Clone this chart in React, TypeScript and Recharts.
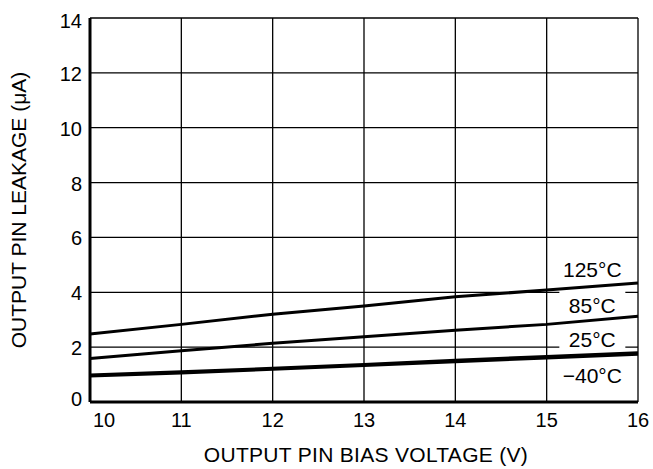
import React from 'react';
import {
  LineChart,
  Line,
  XAxis,
  YAxis,
  CartesianGrid,
  ReferenceDot,
  Label,
} from 'recharts';

// bias voltage (V) and leakage (uA) per temperature
const voltage = [10, 11, 12, 13, 14, 15, 16];
const leak125 = [2.48, 2.83, 3.2, 3.5, 3.84, 4.08, 4.34];
const leak85 = [1.59, 1.87, 2.14, 2.38, 2.62, 2.83, 3.13];
const leak25 = [0.98, 1.1, 1.23, 1.37, 1.52, 1.66, 1.8];
const leakM40 = [0.95, 1.06, 1.19, 1.33, 1.47, 1.6, 1.74];

const xTicks = [10, 11, 12, 13, 14, 15, 16];
const yTicks = [0, 2, 4, 6, 8, 10, 12, 14];

// curve labels (text, anchor in data units)
const curveLabels = [
  { text: '125°C', v: 15.5, i: 4.85 },
  { text: '85°C', v: 15.5, i: 3.57 },
  { text: '25°C', v: 15.5, i: 2.33 },
  { text: '\u221240°C', v: 15.5, i: 1.02 },
];

const data = voltage.map((v, k) => ({
  v,
  t125: leak125[k],
  t85: leak85[k],
  t25: leak25[k],
  tm40: leakM40[k],
}));

const FONT = '"Liberation Sans", Arial, Helvetica, sans-serif';

const XTick = (props: any) => {
  const { x, y, payload } = props;
  const shift = payload.value === 10 ? 14 : 0;
  return (
    <text
      x={x + shift}
      y={y + 18}
      textAnchor="middle"
      dominantBaseline="central"
      fontSize={20}
      fontFamily={FONT}
      fill="#000"
    >
      {payload.value}
    </text>
  );
};

const YTick = (props: any) => {
  const { x, y, payload } = props;
  let dy = 1;
  if (payload.value === 0) dy = -3;
  if (payload.value === 14) dy = 3;
  return (
    <text
      x={x - 8}
      y={y + dy}
      textAnchor="end"
      dominantBaseline="central"
      fontSize={20}
      fontFamily={FONT}
      fill="#000"
    >
      {payload.value}
    </text>
  );
};

const TagShape = (text: string) => (props: any) => {
  const { cx, cy } = props;
  return (
    <g>
      <rect x={cx - 33} y={cy - 15} width={66} height={28} fill="#fff" />
      <text
        x={cx}
        y={cy + 1}
        textAnchor="middle"
        dominantBaseline="central"
        fontSize={21}
        fontFamily={FONT}
        fill="#000"
      >
        {text}
      </text>
    </g>
  );
};

export default function App() {
  return (
    <div style={{ position: 'absolute', left: 0, top: 0, background: '#fff' }}>
      <LineChart
        width={653}
        height={469}
        data={data}
        margin={{ top: 18, right: 15, bottom: 0, left: 0 }}
      >
        <CartesianGrid stroke="#000" strokeWidth={1.3} />
        <XAxis
          dataKey="v"
          type="number"
          domain={[10, 16]}
          ticks={xTicks}
          height={67}
          tickLine={false}
          tickSize={0}
          tickMargin={0}
          tick={<XTick />}
          axisLine={{ stroke: '#000', strokeWidth: 3 }}
          interval={0}
        >
          <Label
            content={(p: any) => {
              const vb = p.viewBox;
              return (
                <text
                  x={vb.x + vb.width / 2 + 2}
                  y={vb.y + 60}
                  textAnchor="middle"
                  fontSize={21}
                  letterSpacing={0.3}
                  fontFamily={FONT}
                  fill="#000"
                >
                  OUTPUT PIN BIAS VOLTAGE (V)
                </text>
              );
            }}
          />
        </XAxis>
        <YAxis
          type="number"
          domain={[0, 14]}
          ticks={yTicks}
          width={90}
          tickLine={false}
          tickSize={0}
          tickMargin={0}
          tick={<YTick />}
          axisLine={{ stroke: '#000', strokeWidth: 3 }}
          interval={0}
        >
          <Label
            content={(p: any) => {
              const vb = p.viewBox;
              const cx = vb.x + 18;
              const cy = vb.y + vb.height / 2;
              return (
                <text
                  transform={`translate(${cx},${cy}) rotate(-90)`}
                  textAnchor="middle"
                  dominantBaseline="central"
                  fontSize={21}
                  fontFamily={FONT}
                  fill="#000"
                >
                  OUTPUT PIN LEAKAGE (μA)
                </text>
              );
            }}
          />
        </YAxis>
        {curveLabels.map((c) => (
          <ReferenceDot
            key={c.text}
            x={c.v}
            y={c.i}
            r={0}
            ifOverflow="visible"
            shape={TagShape(c.text)}
            {...({ zIndex: 300 } as any)}
          />
        ))}
        <Line dataKey="t125" stroke="#000" strokeWidth={3} dot={false} isAnimationActive={false} type="linear" />
        <Line dataKey="t85" stroke="#000" strokeWidth={3} dot={false} isAnimationActive={false} type="linear" />
        <Line dataKey="t25" stroke="#000" strokeWidth={3} dot={false} isAnimationActive={false} type="linear" />
        <Line dataKey="tm40" stroke="#000" strokeWidth={3} dot={false} isAnimationActive={false} type="linear" />
      </LineChart>
    </div>
  );
}
